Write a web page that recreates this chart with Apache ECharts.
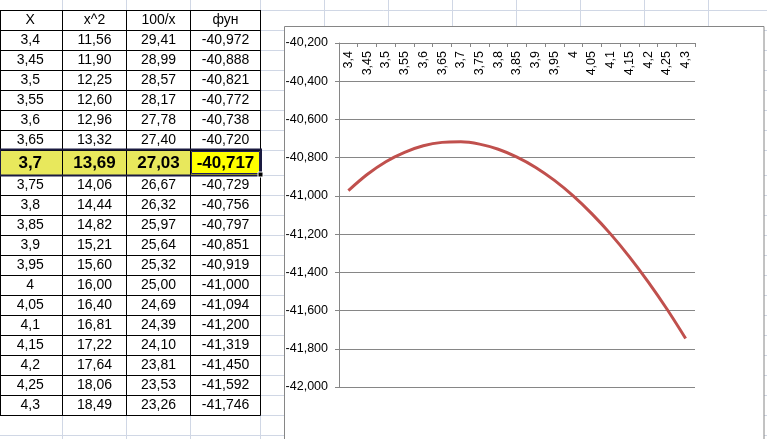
<!DOCTYPE html>
<html>
<head>
<meta charset="utf-8">
<script src="https://cdn.jsdelivr.net/npm/echarts@6/dist/echarts.min.js"></script>
<style>
html,body{margin:0;padding:0;background:#fff;}
#main{width:767px;height:439px;}
</style>
</head>
<body>
<div id="main"></div>
<script>
// ---- data ----
const headers = ['X', 'x^2', '100/x', 'фун'];
const xs = ['3,4','3,45','3,5','3,55','3,6','3,65','3,7','3,75','3,8','3,85','3,9','3,95','4','4,05','4,1','4,15','4,2','4,25','4,3'];
const squares = ['11,56','11,90','12,25','12,60','12,96','13,32','13,69','14,06','14,44','14,82','15,21','15,60','16,00','16,40','16,81','17,22','17,64','18,06','18,49'];
const inverses = ['29,41','28,99','28,57','28,17','27,78','27,40','27,03','26,67','26,32','25,97','25,64','25,32','25,00','24,69','24,39','24,10','23,81','23,53','23,26'];
const fun = [-40.972,-40.888,-40.821,-40.772,-40.738,-40.720,-40.717,-40.729,-40.756,-40.797,-40.851,-40.919,-41.000,-41.094,-41.200,-41.319,-41.450,-41.592,-41.746];
const highlightIndex = 6;
const yMin = -42.0, yMax = -40.2, yStep = 0.2;

const fmt3 = v => v.toFixed(3).replace('.', ',');

// ---- sheet layout ----
const colEdges = [-2, 62.5, 126.5, 190.5, 260.5];
const lightCols = [62.5,126.5,190.5,260.5,324.5,388.5,452.5,516.5,580.5,644.5,708.5];
const headerTop = 10;
const rowH = 20, hiH = 25;
const rowTops = [headerTop];
let yy = headerTop + rowH;
for (let i = 0; i < xs.length; i++) {
  rowTops.push(yy);
  yy += (i === highlightIndex ? hiH : rowH);
}
const tableBottom = yy;
const lightRows = rowTops.concat([tableBottom, tableBottom + rowH]);

const g = [];
const LIGHT = '#d0d7e5';
lightCols.forEach(x => g.push({type:'line', z:-20, silent:true, shape:{x1:x,y1:0,x2:x,y2:439}, style:{stroke:LIGHT, lineWidth:1}}));
lightRows.forEach(y => g.push({type:'line', z:-20, silent:true, shape:{x1:0,y1:y+0.5,x2:767,y2:y+0.5}, style:{stroke:LIGHT, lineWidth:1}}));

// highlight fills
const hTop = rowTops[highlightIndex + 1];
g.push({type:'rect', z:-15, shape:{x:0,y:hTop,width:190.5,height:hiH}, style:{fill:'#e8e85c'}});
g.push({type:'rect', z:-15, shape:{x:190.5,y:hTop,width:70,height:hiH}, style:{fill:'#ffff00'}});

// dark borders
colEdges.forEach(x => g.push({type:'line', z:-10, shape:{x1:Math.max(x,0.5),y1:headerTop,x2:Math.max(x,0.5),y2:tableBottom+0.5}, style:{stroke:'#000', lineWidth:1}}));
rowTops.concat([tableBottom]).forEach(y => g.push({type:'line', z:-10, shape:{x1:0,y1:y+0.5,x2:260.5,y2:y+0.5}, style:{stroke:'#000', lineWidth:1}}));

// selection border
g.push({type:'rect', z:-5, shape:{x:0,y:hTop-0.5,width:261,height:hiH+1}, style:{fill:null, stroke:'#1a1a40', lineWidth:2}});
g.push({type:'rect', z:-5, shape:{x:191.5,y:hTop+1.5,width:68,height:hiH-3}, style:{fill:null, stroke:'#202060', lineWidth:1}});
g.push({type:'rect', z:-4, shape:{x:258,y:hTop + hiH - 3,width:5,height:5}, style:{fill:'#000', stroke:'#fff', lineWidth:1}});

// cell text
function cellText(text, col, top, h, bold) {
  const cx = (colEdges[col] + colEdges[col+1]) / 2;
  g.push({type:'text', z:-3, silent:true, style:{
    text:text, x:cx, y:top + h/2 + 0.5,
    align:'center', verticalAlign:'middle', textAlign:'center', textVerticalAlign:'middle',
    font: (bold ? 'bold 17px' : '14px') + ' "Liberation Sans", Arial, sans-serif',
    fill:'#000'
  }});
}
headers.forEach((h, c) => cellText(h, c, headerTop, rowH, false));
for (let i = 0; i < xs.length; i++) {
  const top = rowTops[i+1];
  const h = i === highlightIndex ? hiH : rowH;
  const b = i === highlightIndex;
  cellText(xs[i], 0, top, h, b);
  cellText(squares[i], 1, top, h, b);
  cellText(inverses[i], 2, top, h, b);
  cellText(fmt3(fun[i]), 3, top, h, b);
}

// chart frame
g.push({type:'rect', z:-1, shape:{x:284.5,y:26.5,width:479.5,height:440}, style:{fill:'#fff', stroke:'#868686', lineWidth:1}});

const GRAY = '#868686';
const chart = echarts.init(document.getElementById('main'), null, {renderer:'canvas'});
chart.setOption({
  animation: false,
  backgroundColor: '#fff',
  graphic: g,
  grid: {left: 339, top: 43, width: 356, height: 344, containLabel: false, outerBoundsMode: 'none'},
  xAxis: {
    type: 'category', position: 'top', data: xs, boundaryGap: true,
    axisLine: {show: true, lineStyle: {color: GRAY, width: 1}},
    axisTick: {show: true, inside: true, length: 4, lineStyle: {color: GRAY}},
    axisLabel: {inside: true, rotate: -90, margin: 8, interval: 0, color: '#000', fontSize: 12.5, fontFamily: '"Liberation Sans", Arial, sans-serif', hideOverlap: false},
    splitLine: {show: false}
  },
  yAxis: {
    type: 'value', min: yMin, max: yMax, interval: yStep,
    axisLine: {show: true, lineStyle: {color: GRAY, width: 1}},
    axisTick: {show: true, length: 4, lineStyle: {color: GRAY}},
    axisLabel: {margin: 11, color: '#000', fontSize: 12.5, fontFamily: '"Liberation Sans", Arial, sans-serif', formatter: v => fmt3(v)},
    splitLine: {show: true, lineStyle: {color: GRAY, width: 1}}
  },
  series: [{
    type: 'line', data: fun, symbol: 'none', smooth: 0.3,
    lineStyle: {color: '#c0504d', width: 3}, itemStyle: {color: '#c0504d'}
  }]
});
</script>
</body>
</html>
